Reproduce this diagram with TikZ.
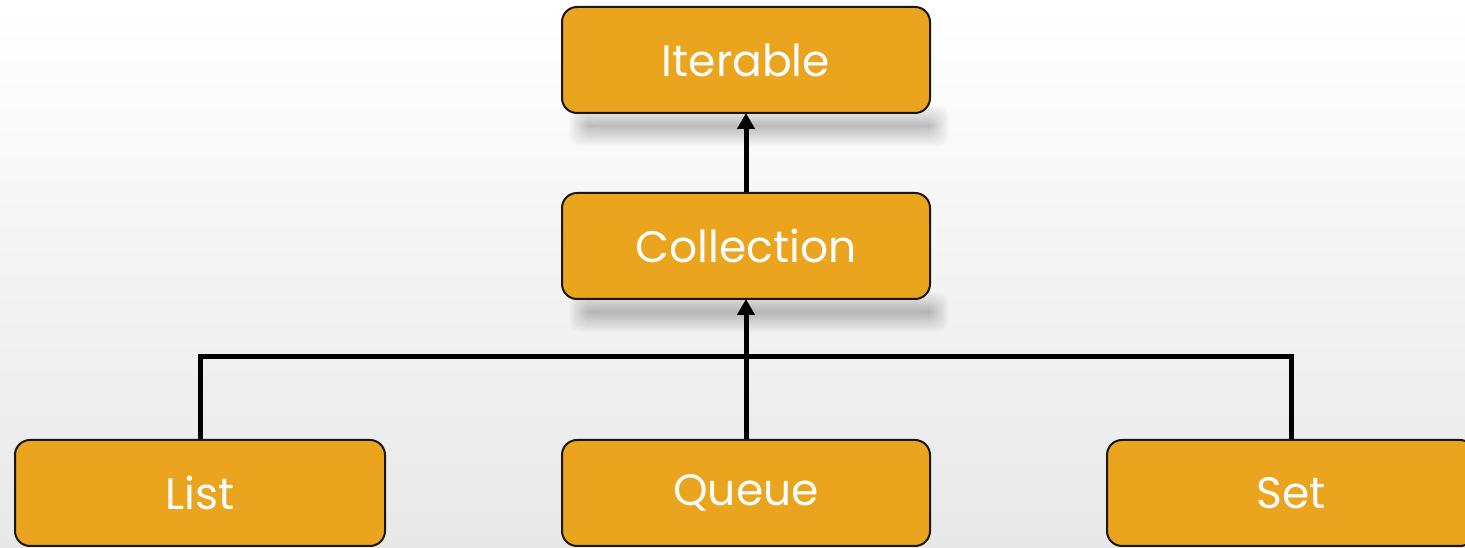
\documentclass[tikz,border=0pt]{standalone}
\usepackage{fontspec}
\setmainfont{Poppins}
\usetikzlibrary{arrows.meta}
\definecolor{boxfill}{RGB}{235,164,29}
\definecolor{boxline}{RGB}{26,22,18}
\pgfdeclarelayer{back}
\pgfdeclarelayer{shade}
\pgfsetlayers{back,shade,main}
\tikzset{
  kind/.style={draw=boxline, line width=2pt, fill=boxfill, rounded corners=15pt,
    minimum width=368pt, minimum height=106pt, inner sep=0pt,
    text=white, font=\fontsize{44}{50}\selectfont},
  link/.style={line width=5pt, black},
  up/.style={link, -{Triangle[width=17pt,length=16pt]}, shorten >=-1pt}
}
% soft shadow band under a node: stacked faint rounded rectangles
\newcommand\softshadow[1]{%
  \begin{pgfonlayer}{shade}
    \foreach \k in {0,...,15}{
      \pgfmathsetmacro\d{10-1.33*\k}
      \fill[black, opacity=0.014, rounded corners=11pt]
        ([shift={(18-\d,-22-\d)}]#1.south west) rectangle
        ([shift={(8+\d,-2+\d)}]#1.south east);
    }
  \end{pgfonlayer}}
\begin{document}
\begin{tikzpicture}[x=1pt,y=1pt]
  % backdrop
  \begin{pgfonlayer}{back}
    \shade[top color=white, bottom color=black!9] (0,0) rectangle (1465,548);
  \end{pgfonlayer}
  \useasboundingbox (0,0) rectangle (1465,548);
  % interfaces
  \node[kind] (iter) at (746,488) {Iterable};
  \node[kind] (coll) at (746,302) {Collection};
  \node[kind, minimum width=370pt] (list) at (200,55) {List};
  \node[kind] (queue) at (746,55) {Queue};
  \node[kind] (set) at (1291,55) {Set};
  \softshadow{iter}
  \softshadow{coll}
  % inheritance links
  \coordinate (bar) at (746,191);
  \draw[up] (coll.north) -- (iter.south);
  \draw[link, line join=miter] (list.north) |- (bar) -| (set.north);
  \draw[up] (queue.north) -- (coll.south);
\end{tikzpicture}
\end{document}
